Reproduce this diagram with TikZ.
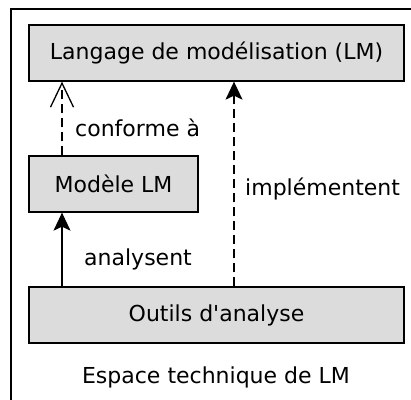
\documentclass[tikz,border=0pt]{standalone}
\usepackage{fontspec}
\setmainfont{DejaVu Sans}[Ligatures=TeXOff]
\usetikzlibrary{arrows.meta}
\definecolor{boxgray}{RGB}{220,220,220}
\tikzset{
  box/.style={draw=black, fill=boxgray, line width=1.3pt, inner sep=0pt, font=\fontsize{22}{26}\selectfont},
  lbl/.style={inner sep=0pt, font=\fontsize{22}{26}\selectfont},
  conn/.style={line width=1.3pt},
  dashconn/.style={conn, dash pattern=on 9pt off 5pt},
  filledtip/.style={-{Stealth[length=18pt,width=17pt,inset=4pt]}},
  opentip/.style={-{Straight Barb[length=24pt,width=23pt,line width=1.3pt]}}
}
\begin{document}
\begin{tikzpicture}[x=1pt,y=1pt]
\useasboundingbox (0,0) rectangle (411,-399);
\clip (0,0) rectangle (411,-399);
\draw[line width=1.8pt] (11,-9) rectangle (440,-430);
\node[box, minimum width=375pt, minimum height=56pt] (lm) at (216.5,-53) {Langage de modélisation (LM)};
\node[box, minimum width=169pt, minimum height=56pt] (mod) at (113.5,-184) {Modèle LM};
\node[box, minimum width=375pt, minimum height=56pt] (out) at (216.5,-315) {Outils d'analyse};
\node[lbl, anchor=base] (esp) at (216,-383) {Espace technique de LM};
\coordinate (xa) at (62,0);
\coordinate (xb) at (234,0);
\draw[dashconn, opentip] (mod.north -| xa) -- (lm.south -| xa);
\draw[dashconn, filledtip] (out.north -| xb) -- (lm.south -| xb);
\draw[conn, filledtip] (out.north -| xa) -- (mod.south -| xa);
\node[lbl, anchor=base west] (conf) at (75,-136) {conforme à};
\node[lbl, anchor=base west] (impl) at (245,-195) {implémentent};
\node[lbl, anchor=base west] (ana) at (84,-265) {analysent};
\end{tikzpicture}
\end{document}
